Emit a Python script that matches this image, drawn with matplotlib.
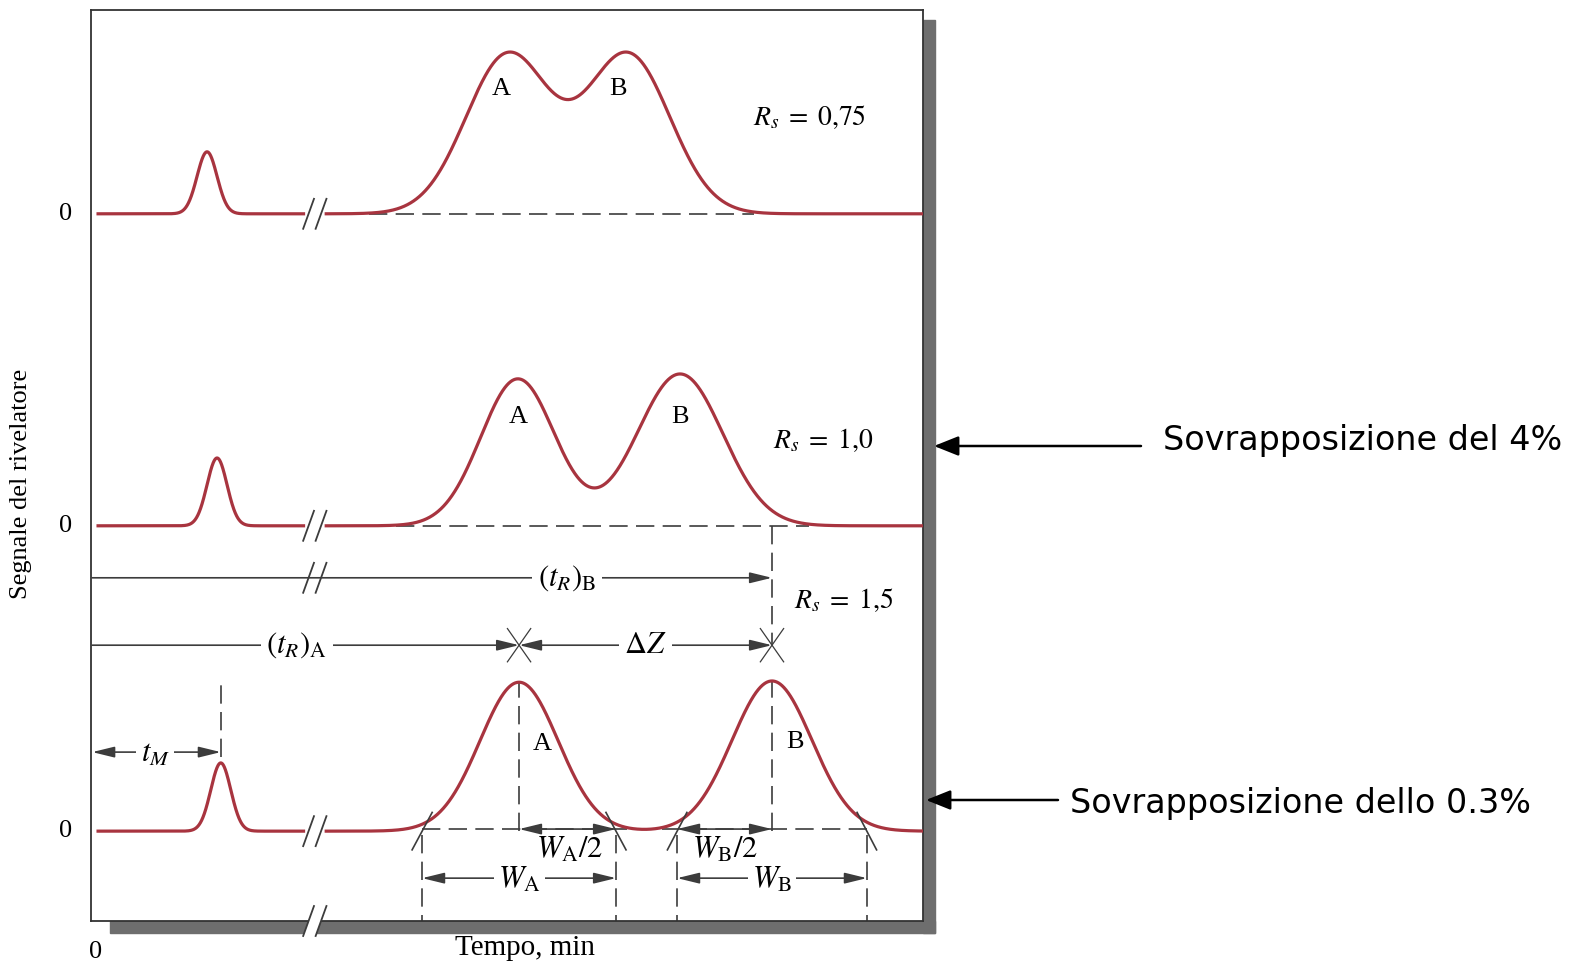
import numpy as np
import matplotlib
matplotlib.use("Agg")
import matplotlib.pyplot as plt
from matplotlib.patches import Rectangle, Polygon

plt.rcParams['font.family'] = ['Liberation Serif', 'DejaVu Serif']
plt.rcParams['mathtext.fontset'] = 'stix'

# ---------------- data (time units, signal units) ----------------
rs_labels = ["0{,}75", "1{,}0", "1{,}5"]
baselines = [17.0, 9.50, 2.16]          # zero level of each chromatogram
tm_times = [2.79, 3.03, 3.12]           # unretained peak
tm_heights = [1.49, 1.63, 1.64]
tm_sigma = 0.24
tA_times = [10.02, 10.26, 10.29]
tB_times = [12.91, 14.16, 16.37]
hA = [3.82, 3.53, 3.58]
hB = [3.82, 3.65, 3.61]
sigA = [1.01, 0.89, 0.94]
sigB = [1.01, 1.03, 0.96]
w_half = [2.33, 2.28]                   # measured half widths W/2 (bottom run)
break_t = 5.38
overlap_notes = ["Sovrapposizione del 4%", "Sovrapposizione dello 0.3%"]

# ---------------- figure / axes ----------------
W_PX, H_PX = 1588, 971
fig = plt.figure(figsize=(W_PX / 100, H_PX / 100), dpi=100)
L, R, T, B = 91, 923, 10, 921
ax = fig.add_axes([L / W_PX, 1 - B / H_PX, (R - L) / W_PX, (B - T) / H_PX])
PX = 41.6
ax.set_xlim(0, (R - L) / PX)
ax.set_ylim(0, (B - T) / PX)
ax.set_xticks([])
ax.set_yticks([])
for s in ax.spines.values():
    s.set_color('#333333')
    s.set_linewidth(1.3)

RED = '#a8343f'
INK = '#3c3c3c'
FS = 19
FM = 22

# shadow of the frame
SH = '#6e6e6e'
fig.add_artist(Rectangle((R / W_PX, 1 - 933 / H_PX), 12 / W_PX, (933 - 20) / H_PX,
                         transform=fig.transFigure, color=SH, zorder=-1))
fig.add_artist(Rectangle((110 / W_PX, 1 - 933 / H_PX), (935 - 110) / W_PX, 12 / H_PX,
                         transform=fig.transFigure, color=SH, zorder=-1))


def gauss(t, c, s, h):
    return h * np.exp(-0.5 * ((t - c) / s) ** 2)


def slashes(xc, yc, clip=True, gap=False):
    dx, dy, off = 0.13, 0.36, 0.15
    if gap:
        poly = Polygon([(xc - off - dx, yc - dy), (xc + off - dx, yc - dy),
                        (xc + off + dx, yc + dy), (xc - off + dx, yc + dy)],
                       closed=True, facecolor='white', edgecolor='none',
                       zorder=6, clip_on=False)
        ax.add_patch(poly)
    for o in (-off, off):
        ax.plot([xc + o - dx, xc + o + dx], [yc - dy, yc + dy], color=INK,
                lw=1.3, zorder=7, clip_on=clip)


def arrow(x0, y0, x1, y1, style='-|>', lw=1.2, ms=15, color=INK, z=4):
    ax.annotate('', xy=(x1, y1), xytext=(x0, y0),
                arrowprops=dict(arrowstyle=style + ',head_length=0.9,head_width=0.22',
                                color=color, lw=lw, shrinkA=0, shrinkB=0,
                                mutation_scale=ms), zorder=z)


DASH = (0, (11, 5))

# ---------------- chromatograms ----------------
t = np.linspace(0.17, 20.0, 4000)
for i in range(3):
    y = (baselines[i] + gauss(t, tm_times[i], tm_sigma, tm_heights[i])
         + gauss(t, tA_times[i], sigA[i], hA[i])
         + gauss(t, tB_times[i], sigB[i], hB[i]))
    left = t < break_t - 0.27
    right = t > break_t + 0.27
    ax.plot(t[left], y[left], color=RED, lw=2.3, zorder=3)
    ax.plot(t[right], y[right], color=RED, lw=2.3, zorder=3)
    slashes(break_t, baselines[i])
    if i < 2:
        x0 = tA_times[i] - 3.3 * sigA[i]
        x1 = tB_times[i] + 3.0 * sigB[i]
        ax.plot([x0, x1], [baselines[i]] * 2, color=INK, lw=1.2, ls=DASH, zorder=2)
    ax.text(-0.62, baselines[i], "0", fontsize=FS, ha='center', va='center', clip_on=False)

# peak letters
ax.text(tA_times[0] - 0.15, baselines[0] + 3.0, "A", fontsize=FS, ha='center', va='center')
ax.text(tB_times[0] - 0.25, baselines[0] + 3.0, "B", fontsize=FS, ha='center', va='center')
ax.text(tA_times[1], baselines[1] + 2.62, "A", fontsize=FS, ha='center', va='center')
ax.text(tB_times[1], baselines[1] + 2.62, "B", fontsize=FS, ha='center', va='center')
ax.text(tA_times[2] + 0.55, baselines[2] + 2.1, "A", fontsize=FS, ha='center', va='center')
ax.text(tB_times[2] + 0.55, baselines[2] + 2.15, "B", fontsize=FS, ha='center', va='center')

# Rs labels
ax.text(17.28, 19.33, r"$R_s\;=\;" + rs_labels[0] + "$", fontsize=20, ha='center', va='center')
ax.text(17.6, 11.55, r"$R_s\;=\;" + rs_labels[1] + "$", fontsize=20, ha='center', va='center')
ax.text(18.1, 7.72, r"$R_s\;=\;" + rs_labels[2] + "$", fontsize=20, ha='center', va='center')

# ---------------- retention-time construction (bottom chromatogram) ----------------
b = baselines[2]
tA, tB = tA_times[2], tB_times[2]
y_trB = 8.25
y_trA = 6.63

# vertical dashed from middle baseline down to the ΔZ line
ax.plot([tB, tB], [baselines[1], y_trA], color=INK, lw=1.2, ls=DASH, zorder=2)

# (t_R)_B
arrow(0.03, y_trB, tB, y_trB)
ax.text(11.44, y_trB, r"$(t_R)_\mathrm{B}$", fontsize=FM, ha='center', va='center', zorder=5,
        bbox=dict(facecolor='white', edgecolor='none', pad=4))
slashes(break_t, y_trB)

# (t_R)_A
arrow(0.03, y_trA, tA, y_trA)
ax.text(4.95, y_trA, r"$(t_R)_\mathrm{A}$", fontsize=FM, ha='center', va='center', zorder=5,
        bbox=dict(facecolor='white', edgecolor='none', pad=4))

# ΔZ
arrow(tA, y_trA, tB, y_trA, style='<|-|>')
ax.text((tA + tB) / 2, y_trA, r"$\Delta Z$", fontsize=FM, ha='center', va='center', zorder=5,
        bbox=dict(facecolor='white', edgecolor='none', pad=4))

for xc in (tA, tB):
    for sgn in (-1, 1):
        ax.plot([xc - 0.28, xc + 0.28], [y_trA - sgn * 0.4, y_trA + sgn * 0.4],
                color=INK, lw=0.9, zorder=4)

# t_M
tM = tm_times[2]
y_tm = 4.06
arrow(0.03, y_tm, tM, y_tm, style='<|-|>')
ax.text(1.54, y_tm - 0.05, r"$t_M$", fontsize=FM, ha='center', va='center', zorder=5,
        bbox=dict(facecolor='white', edgecolor='none', pad=3))
ax.plot([tM, tM], [y_tm - 0.12, 5.87], color=INK, lw=1.2, ls=DASH, zorder=2)

# peak-centre dashed verticals
ax.plot([tA, tA], [b, b + hA[2]], color=INK, lw=1.2, ls=DASH, zorder=2)
ax.plot([tB, tB], [b, b + hB[2]], color=INK, lw=1.2, ls=DASH, zorder=2)

# dashed baseline of bottom chromatogram
ax.plot([tA - w_half[0], tB + w_half[1] + 0.2], [b + 0.05] * 2, color=INK, lw=1.2,
        ls=DASH, zorder=2)

# tangents at inflection points
for c, h, wh in ((tA, hA[2], w_half[0]), (tB, hB[2], w_half[1])):
    slope = 2 * np.exp(-0.5) * h / wh
    for sgn in (-1, 1):
        x_int = c + sgn * wh
        yy = np.array([-0.45, 0.45])
        xx = x_int - sgn * yy / slope
        ax.plot(xx, b + yy, color=INK, lw=1.2, zorder=4)
        ax.plot([x_int, x_int], [b - 0.1, 0.0], color=INK, lw=1.2, ls=DASH, zorder=2)

# half widths
arrow(tA, b + 0.05, tA + w_half[0], b + 0.05, style='<|-|>')
arrow(tB - w_half[1], b + 0.05, tB, b + 0.05, style='<|-|>')
ax.text(tA + w_half[0] / 2 + 0.05, b - 0.47, r"$W_\mathrm{A}/2$", fontsize=FM,
        ha='center', va='center')
ax.text(tB - w_half[1] / 2, b - 0.47, r"$W_\mathrm{B}/2$", fontsize=FM,
        ha='center', va='center')

# full widths
y_w = 1.03
arrow(tA - w_half[0], y_w, tA + w_half[0], y_w, style='<|-|>')
arrow(tB - w_half[1], y_w, tB + w_half[1], y_w, style='<|-|>')
ax.text(tA, y_w - 0.05, r"$W_\mathrm{A}$", fontsize=FM, ha='center', va='center', zorder=5,
        bbox=dict(facecolor='white', edgecolor='none', pad=3))
ax.text(tB, y_w - 0.05, r"$W_\mathrm{B}$", fontsize=FM, ha='center', va='center', zorder=5,
        bbox=dict(facecolor='white', edgecolor='none', pad=3))

# axis break on time axis
slashes(break_t, 0.0, clip=False, gap=True)

# axis labels
ax.text(0.1, -0.75, "0", fontsize=FS, ha='center', va='center', clip_on=False)
ax.text(10.43, -0.66, "Tempo, min", fontsize=21, ha='center', va='center', clip_on=False)
ax.text(-1.68, 10.5, "Segnale del rivelatore", fontsize=FS, rotation=90,
        ha='center', va='center', clip_on=False)

# ---------------- overlap notes ----------------
def fp(x, y):
    return (x, H_PX - y)


for note, (x_tail, x_tip, y_ar), (x_txt, y_txt) in zip(
        overlap_notes,
        [(1141, 934, 446), (1058, 926, 800)],
        [(1163, 440), (1070, 803)]):
    ax.annotate('', xy=fp(x_tip, y_ar), xytext=fp(x_tail, y_ar),
                xycoords='figure pixels', textcoords='figure pixels',
                arrowprops=dict(arrowstyle='-|>,head_length=0.75,head_width=0.3',
                                color='black', lw=1.8, shrinkA=0, shrinkB=0,
                                mutation_scale=20), annotation_clip=False)
    fig.text(x_txt / W_PX, 1 - y_txt / H_PX, note, fontsize=24, family='DejaVu Sans',
             ha='left', va='center', color='black')

fig.savefig("out.png", dpi=100)
